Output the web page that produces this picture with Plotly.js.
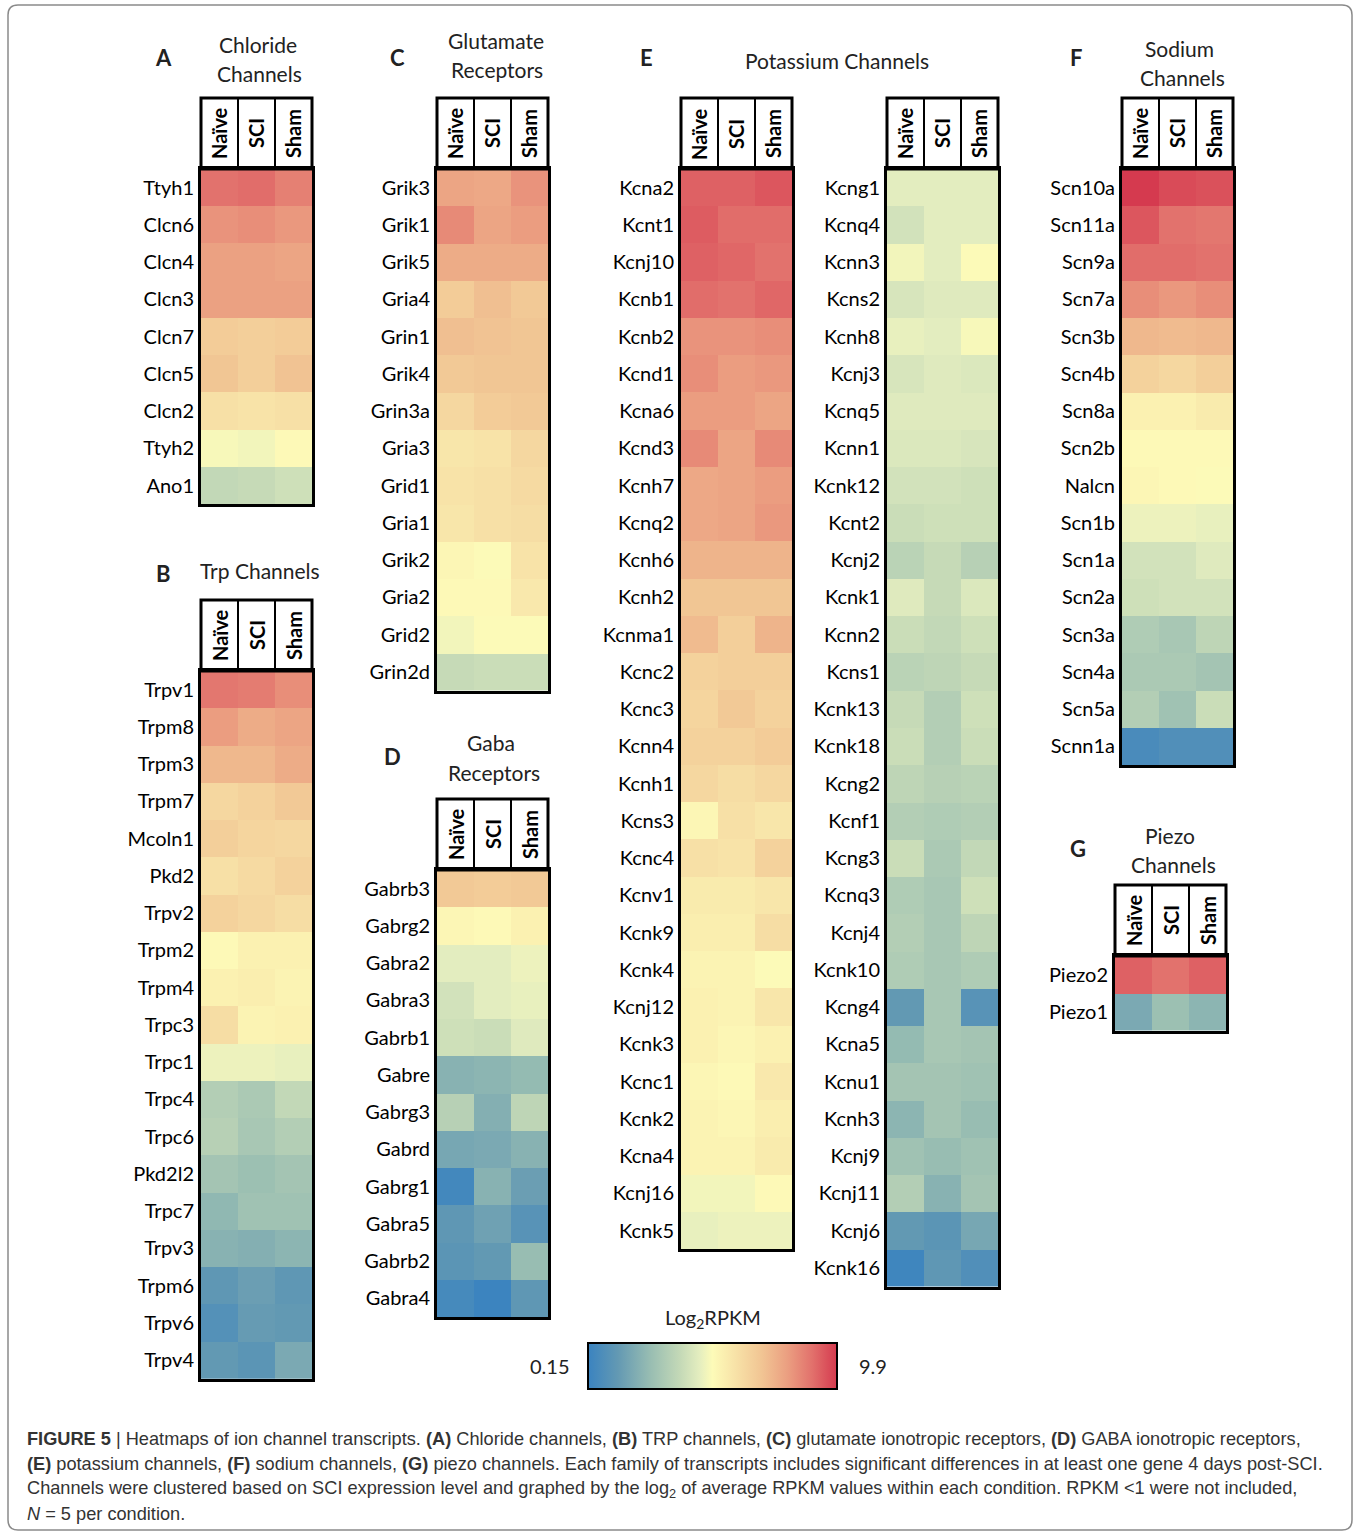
<!DOCTYPE html>
<html><head><meta charset="utf-8">
<script src="https://cdn.plot.ly/plotly-3.0.1.min.js"></script>
<style>html,body{margin:0;padding:0;background:#fff}</style>
</head><body><div id="chart" style="width:1356px;height:1533px"></div>
<script>
// ---------------- DATA (log2 RPKM, columns: Naïve, SCI, Sham) ----------------
const conditions = ['Naïve', 'SCI', 'Sham'];

const chlorideGenes = ['Ttyh1','Clcn6','Clcn4','Clcn3','Clcn7','Clcn5','Clcn2','Ttyh2','Ano1'];
const chlorideValues = [
  [8.9,9.0,8.6],[8.2,8.3,8.1],[7.9,7.9,7.8],[7.9,7.9,7.9],[6.7,6.6,6.7],
  [6.9,6.6,7.0],[6.0,5.9,6.0],[4.9,4.8,5.1],[3.7,3.8,4.0]
];

const trpGenes = ['Trpv1','Trpm8','Trpm3','Trpm7','Mcoln1','Pkd2','Trpv2','Trpm2','Trpm4','Trpc3',
  'Trpc1','Trpc4','Trpc6','Pkd2l2','Trpc7','Trpv3','Trpm6','Trpv6','Trpv4'];
const trpValues = [
  [8.8,8.7,8.3],[8.0,7.6,7.8],[7.3,7.3,7.6],[6.3,6.5,6.8],[6.6,6.4,6.3],[6.0,6.2,6.5],
  [6.5,6.3,6.1],[5.1,5.4,5.4],[5.4,5.5,5.3],[6.1,5.3,5.4],[4.7,4.7,4.6],[3.3,3.1,3.7],
  [3.4,3.0,3.3],[2.9,2.7,2.9],[2.4,2.8,2.8],[2.2,2.1,2.3],[1.2,1.5,1.2],[0.9,1.4,1.3],[1.3,1.1,1.9]
];

const glutamateGenes = ['Grik3','Grik1','Grik5','Gria4','Grin1','Grik4','Grin3a','Gria3','Grid1',
  'Gria1','Grik2','Gria2','Grid2','Grin2d'];
const glutamateValues = [
  [7.8,7.7,8.2],[8.4,7.8,8.0],[7.6,7.6,7.6],[6.7,7.1,6.8],[7.1,7.0,6.9],[6.8,6.9,6.9],
  [6.3,6.7,6.8],[5.8,5.9,6.3],[5.9,6.0,6.2],[5.8,6.0,6.1],[5.2,5.0,5.9],[5.1,5.1,5.7],
  [4.8,5.0,5.0],[3.8,3.9,3.9]
];

const gabaGenes = ['Gabrb3','Gabrg2','Gabra2','Gabra3','Gabrb1','Gabre','Gabrg3','Gabrd','Gabrg1',
  'Gabra5','Gabrb2','Gabra4'];
const gabaValues = [
  [6.8,6.7,6.8],[5.2,5.1,5.4],[4.5,4.5,4.7],[4.1,4.5,4.6],[4.0,3.9,4.4],[2.2,2.3,2.5],
  [3.4,2.1,3.6],[1.8,1.9,2.2],[0.4,2.2,1.5],[1.2,1.6,1.0],[1.1,1.3,2.6],[0.5,0.2,1.2]
];

const potassiumGenesA = ['Kcna2','Kcnt1','Kcnj10','Kcnb1','Kcnb2','Kcnd1','Kcna6','Kcnd3','Kcnh7',
  'Kcnq2','Kcnh6','Kcnh2','Kcnma1','Kcnc2','Kcnc3','Kcnn4','Kcnh1','Kcns3','Kcnc4','Kcnv1','Kcnk9',
  'Kcnk4','Kcnj12','Kcnk3','Kcnc1','Kcnk2','Kcna4','Kcnj16','Kcnk5'];
const potassiumValuesA = [
  [9.2,9.2,9.4],[9.3,9.0,9.0],[9.2,9.1,8.9],[9.0,8.9,9.1],[8.2,8.2,8.3],[8.3,8.0,8.1],
  [8.0,8.0,7.8],[8.4,7.8,8.4],[7.7,7.8,8.0],[7.7,7.8,8.1],[7.4,7.4,7.4],[6.9,6.9,6.9],
  [7.2,6.6,7.4],[6.5,6.6,6.6],[6.4,6.8,6.5],[6.5,6.5,6.7],[6.3,6.1,6.3],[5.2,6.0,5.8],
  [6.0,5.9,6.5],[5.6,5.6,5.8],[5.5,5.5,6.1],[5.3,5.3,5.0],[5.4,5.3,5.8],[5.4,5.2,5.4],
  [5.2,5.1,5.7],[5.3,5.2,5.5],[5.3,5.3,5.6],[4.8,4.8,5.1],[4.6,4.7,4.7]
];

const potassiumGenesB = ['Kcng1','Kcnq4','Kcnn3','Kcns2','Kcnh8','Kcnj3','Kcnq5','Kcnn1','Kcnk12',
  'Kcnt2','Kcnj2','Kcnk1','Kcnn2','Kcns1','Kcnk13','Kcnk18','Kcng2','Kcnf1','Kcng3','Kcnq3','Kcnj4',
  'Kcnk10','Kcng4','Kcna5','Kcnu1','Kcnh3','Kcnj9','Kcnj11','Kcnj6','Kcnk16'];
const potassiumValuesB = [
  [4.5,4.5,4.5],[4.1,4.5,4.5],[4.8,4.5,5.0],[4.2,4.4,4.4],[4.6,4.5,4.9],[4.2,4.4,4.3],
  [4.4,4.4,4.4],[4.3,4.3,4.2],[4.1,4.1,4.0],[3.9,4.0,4.0],[3.5,3.8,3.4],[4.4,3.8,4.3],
  [3.9,3.7,4.0],[3.5,3.6,3.8],[3.8,3.3,4.0],[3.9,3.3,3.9],[3.6,3.4,3.5],[3.3,3.2,3.3],
  [3.9,3.1,3.7],[3.2,3.0,4.0],[3.3,3.0,3.6],[3.2,3.0,3.2],[1.3,3.0,1.0],[2.5,3.0,2.9],
  [2.9,2.9,2.8],[2.3,2.9,2.6],[2.8,2.6,2.8],[3.3,2.2,2.9],[1.3,1.1,1.8],[0.3,1.2,0.8]
];

const sodiumGenes = ['Scn10a','Scn11a','Scn9a','Scn7a','Scn3b','Scn4b','Scn8a','Scn2b','Nalcn',
  'Scn1b','Scn1a','Scn2a','Scn3a','Scn4a','Scn5a','Scnn1a'];
const sodiumValues = [
  [9.9,9.6,9.5],[9.4,8.9,8.8],[9.0,9.0,8.9],[8.3,8.1,8.3],[7.3,7.2,7.3],[6.5,6.3,6.6],
  [5.4,5.4,5.6],[5.1,5.1,5.1],[5.2,5.1,5.0],[4.7,4.7,4.6],[4.1,4.1,4.4],[4.0,4.1,4.1],
  [3.2,3.0,3.6],[3.1,3.1,2.9],[3.3,2.8,3.9],[0.6,0.8,0.8]
];

const piezoGenes = ['Piezo2','Piezo1'];
const piezoValues = [[9.2,8.9,9.2],[1.9,2.7,2.3]];

const scaleMin = 0.15, scaleMax = 9.9;

// ---------------- LAYOUT ----------------
const W = 1356, H = 1533;
const CELL = 37.25, PW = 111, HEAD = 71;
const LAB = 'Lato, "Open Sans", sans-serif';

const panels = [
  {genes: chlorideGenes,   z: chlorideValues,   left: 201,  top: 169},
  {genes: trpGenes,        z: trpValues,        left: 201,  top: 671},
  {genes: glutamateGenes,  z: glutamateValues,  left: 437,  top: 169},
  {genes: gabaGenes,       z: gabaValues,       left: 437,  top: 870},
  {genes: potassiumGenesA, z: potassiumValuesA, left: 681,  top: 169},
  {genes: potassiumGenesB, z: potassiumValuesB, left: 887,  top: 169},
  {genes: sodiumGenes,     z: sodiumValues,     left: 1122, top: 169},
  {genes: piezoGenes,      z: piezoValues,      left: 1115, top: 956}
];

const px = v => v / W;
const py = v => 1 - v / H;

const data = [];
const layout = {
  width: W, height: H,
  margin: {l: 0, r: 0, t: 0, b: 0},
  paper_bgcolor: '#fff', plot_bgcolor: '#fff',
  showlegend: false,
  font: {family: LAB, color: '#000', size: 20},
  coloraxis: {
    cmin: scaleMin, cmax: scaleMax,
    colorscale: [
      [0, '#3a83c0'], [0.12, '#6399b3'], [0.25, '#98bdb2'], [0.37, '#c4d9b7'],
      [0.45, '#e5eebf'], [0.5, '#fdfbb8'], [0.6, '#f7e0a6'], [0.7, '#f1c493'],
      [0.8, '#eb9f81'], [0.9, '#e2716c'], [1, '#d53a4f']
    ],
    colorbar: {
      orientation: 'h', thickness: 46, thicknessmode: 'pixels',
      len: 249, lenmode: 'pixels',
      x: px(712.5), xanchor: 'center', y: py(1366.5), yanchor: 'middle',
      xpad: 0, ypad: 0, outlinewidth: 2, outlinecolor: '#000',
      showticklabels: false, ticks: ''
    }
  },
  shapes: [], annotations: []
};

panels.forEach((p, i) => {
  const k = i + 1;
  const xa = 'xaxis' + (k === 1 ? '' : k), ya = 'yaxis' + (k === 1 ? '' : k);
  const xr = 'x' + (k === 1 ? '' : k), yr = 'y' + (k === 1 ? '' : k);
  const bottom = p.top + p.genes.length * CELL;
  data.push({
    type: 'heatmap', x: conditions, y: p.genes, z: p.z,
    coloraxis: 'coloraxis', xaxis: xr, yaxis: yr, xgap: 0, ygap: 0
  });
  layout[xa] = {
    domain: [px(p.left), px(p.left + PW)], anchor: yr, type: 'category',
    range: [-0.5, 2.5], showticklabels: false, ticks: '', showgrid: false, zeroline: false,
    showline: true, mirror: true, linewidth: 3, linecolor: '#000', fixedrange: true
  };
  layout[ya] = {
    domain: [py(bottom), py(p.top)], anchor: xr, type: 'category',
    autorange: 'reversed', ticks: '', showgrid: false, zeroline: false,
    showline: true, mirror: true, linewidth: 3, linecolor: '#000', fixedrange: true,
    tickfont: {family: LAB, size: 20, color: '#000'}, ticklabelstandoff: 0
  };
  // header box
  layout.shapes.push({type: 'rect', xref: 'paper', yref: 'paper',
    x0: px(p.left), x1: px(p.left + PW), y0: py(p.top), y1: py(p.top - HEAD),
    line: {color: '#000', width: 3}, fillcolor: 'rgba(0,0,0,0)'});
  [0.5, 1.5].forEach(b => layout.shapes.push({type: 'line', xref: xr, yref: 'paper',
    x0: b, x1: b, y0: py(p.top), y1: py(p.top - HEAD), line: {color: '#000', width: 2}}));
  conditions.forEach(c => layout.annotations.push({
    xref: xr, yref: 'paper', x: c, y: py(p.top - HEAD / 2), text: '<b>' + c + '</b>',
    textangle: -90, showarrow: false, xanchor: 'center', yanchor: 'middle',
    font: {family: LAB, size: 20, color: '#000'}
  }));
});

// panel letters and titles
const letters = [['A',163,57],['B',163,573],['C',398,57],['D',392,756],['E',646,57],['F',1076,57],['G',1078,848]];
letters.forEach(([t,x,y]) => layout.annotations.push({xref:'paper',yref:'paper',x:px(x),y:py(y),
  text:'<b>'+t+'</b>',showarrow:false,xanchor:'center',yanchor:'middle',
  font:{family:LAB,size:22,color:'#222'}}));
const titles = [
  ['Chloride',258,44],['Channels',259,73],
  ['Trp Channels',260,570],
  ['Glutamate',496,40],['Receptors',497,69],
  ['Gaba',491,743],['Receptors',494,772],
  ['Potassium Channels',837,60],
  ['Sodium',1179,48],['Channels',1182,77],
  ['Piezo',1170,835],['Channels',1173,864]
];
titles.forEach(([t,x,y]) => layout.annotations.push({xref:'paper',yref:'paper',x:px(x),y:py(y),
  text:t,showarrow:false,xanchor:'center',yanchor:'middle',
  font:{family:LAB,size:21,color:'#222'}}));

// colorbar labels
layout.annotations.push({xref:'paper',yref:'paper',x:px(713),y:py(1318),text:'Log<sub>2</sub>RPKM',
  showarrow:false,xanchor:'center',yanchor:'middle',font:{family:LAB,size:20,color:'#222'}});
layout.annotations.push({xref:'paper',yref:'paper',x:px(550),y:py(1366),text:String(scaleMin),
  showarrow:false,xanchor:'center',yanchor:'middle',font:{family:LAB,size:20,color:'#222'}});
layout.annotations.push({xref:'paper',yref:'paper',x:px(873),y:py(1366),text:String(scaleMax),
  showarrow:false,xanchor:'center',yanchor:'middle',font:{family:LAB,size:20,color:'#222'}});

// caption
const CAP = '"Liberation Sans", Arial, sans-serif';
const capLines = [
  '<b>FIGURE 5</b> | Heatmaps of ion channel transcripts. <b>(A)</b> Chloride channels, <b>(B)</b> TRP channels, <b>(C)</b> glutamate ionotropic receptors, <b>(D)</b> GABA ionotropic receptors,',
  '<b>(E)</b> potassium channels, <b>(F)</b> sodium channels, <b>(G)</b> piezo channels. Each family of transcripts includes significant differences in at least one gene 4 days post-SCI.',
  'Channels were clustered based on SCI expression level and graphed by the log<sub>2</sub> of average RPKM values within each condition. RPKM &lt;1 were not included,',
  '<i>N</i> = 5 per condition.'
];
capLines.forEach((t, i) => layout.annotations.push({xref:'paper',yref:'paper',x:px(25),y:py(1439 + i*25),
  text:t,showarrow:false,xanchor:'left',yanchor:'middle',align:'left',
  font:{family:CAP,size:18.2,color:'#333'}}));

// outer frame (rounded)
const r = 10;
const fx0 = px(8), fx1 = px(1352), fy0 = py(1530), fy1 = py(5), rx = r / W, ry = r / H;
layout.shapes.push({type:'path', xref:'paper', yref:'paper',
  path: `M ${fx0+rx} ${fy1} L ${fx1-rx} ${fy1} Q ${fx1} ${fy1} ${fx1} ${fy1-ry} L ${fx1} ${fy0+ry} Q ${fx1} ${fy0} ${fx1-rx} ${fy0} L ${fx0+rx} ${fy0} Q ${fx0} ${fy0} ${fx0} ${fy0+ry} L ${fx0} ${fy1-ry} Q ${fx0} ${fy1} ${fx0+rx} ${fy1} Z`,
  line:{color:'#8a8a8a', width:1.5}, fillcolor:'rgba(0,0,0,0)'});

Plotly.newPlot('chart', data, layout, {displayModeBar: false, staticPlot: true});
</script>
</body></html>
